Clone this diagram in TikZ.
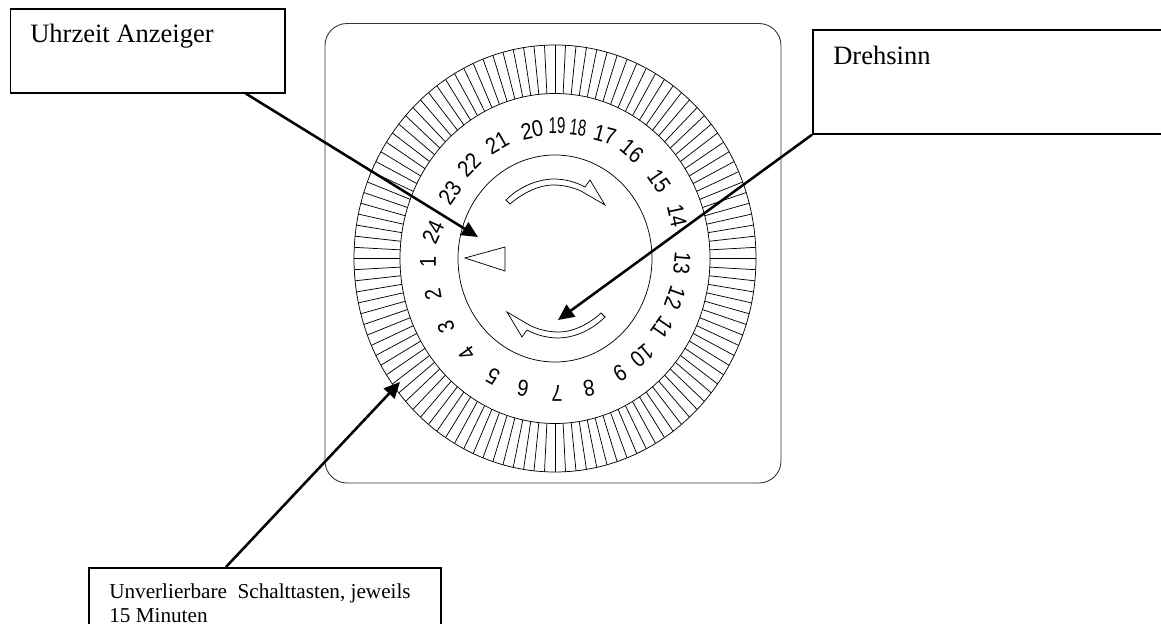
\documentclass[tikz,border=0pt]{standalone}
\usepackage{fontspec}
\usepackage{graphicx}
\setmainfont{Liberation Serif}
\newfontfamily\dialfont{Liberation Sans}
\usetikzlibrary{arrows.meta,calc}
\tikzset{
  callout/.style={draw=black,line width=1.3pt,inner sep=0pt,anchor=north west},
  pointer/.style={draw=black,line width=1.9pt,-{Triangle[length=12pt,width=11pt]}},
  dial/.style={draw=black,line width=0.55pt},
  hour/.style={font=\dialfont\fontsize{15}{15}\selectfont,inner sep=0pt},
  bignote/.style={anchor=base west,inner sep=0pt,font=\fontsize{19.9}{24}\selectfont},
  smallnote/.style={anchor=base west,inner sep=0pt,font=\fontsize{15.9}{18}\selectfont},
}
\begin{document}
\begin{tikzpicture}[x=0.75pt,y=-0.75pt]
\useasboundingbox (0,0) rectangle (1161,624);
% card
\draw[draw=black!80,line width=0.65pt,rounded corners=16.5pt] (325,23.5) rectangle (781,483);
% dial
\draw[dial] (555,258.5) ellipse [x radius=201,y radius=213.5];
\draw[dial] (555,258.5) ellipse [x radius=155,y radius=165];
\draw[dial] (555,258.5) ellipse [x radius=97,y radius=103.5];
\foreach \a in {0,3,...,357}
  \draw[dial] ({555+155*cos(\a)},{258.5+165*sin(\a)}) -- ({555+201*cos(\a)},{258.5+213.5*sin(\a)});
% pointer triangle
\draw[dial,line join=miter] (465,258) -- (505,247) -- (505,271) -- cycle;
% direction arrows
\draw[dial,line join=miter] (506,200) .. controls (520,186) and (538,179.5) .. (553,179)
   .. controls (565,179) and (576,182) .. (585,187) -- (590,180) -- (605,205) -- (581,191)
   .. controls (572,187) and (563,185) .. (553,185) .. controls (540,185) and (524,192) .. (510,204) -- cycle;
\draw[dial,line join=miter] (605,317) .. controls (591,331) and (574,337.5) .. (559,338)
   .. controls (547,338) and (536,335) .. (527,330) -- (522,337) -- (507,312) -- (531,326)
   .. controls (540,330) and (549,332) .. (559,332) .. controls (572,332) and (588,325) .. (601,313) -- cycle;
% hour numbers
\foreach \x/\y/\r/\s/\t in {
 433/232/65/1/24, 450/193/55/1/23, 469/165/45/1/22, 497/143/30/1/21, 532/130/12/1/20, 557/126/0/.75/19,
 578/128/-7/.75/18, 605/135/-15/1/17, 632/151/-40/1/16, 659/181/-55/1/15, 677/216/-78/1/14, 682/263/-95/1/13,
 675/298/-110/1/12, 662/328/-125/1/11, 642/356/-140/1/10, 620/373/-150/1/9, 589/388/-170/1/8, 557/393/180/1/7,
 523/388/170/1/6, 493/376/150/1/5, 467/353/125/1/4, 446/327/110/1/3, 433/294/100/1/2, 428/262/90/1/1}
  \node[hour,rotate=\r] (h\t) at (\x,\y) {\scalebox{\s}[1.15]{\t}};
% callouts
\node[callout,minimum width=206pt,minimum height=62.5pt] (uhr) at (9.5,8.5) {};
\node[bignote] (uhrtext) at (30,43) {Uhrzeit Anzeiger};
\node[callout,minimum width=300pt,minimum height=78pt] (dreh) at (812,29) {};
\node[bignote] (drehtext) at (833,65) {Drehsinn};
\node[callout,minimum width=264pt,minimum height=60pt] (unv) at (88,567) {};
\node[smallnote] (unvtext1) at (109,598) {Unverlierbare\ \ Schalttasten, jeweils};
\node[smallnote] (unvtext2) at (109,622) {15 Minuten};
% pointers
\coordinate (tipuhr) at (478,237);
\coordinate (tipdreh) at (558,320);
\coordinate (tipunv) at (400,382);
\draw[pointer] ($(uhr.south west)!0.855!(uhr.south east)$) -- (tipuhr);
\draw[pointer] (dreh.south west) -- (tipdreh);
\draw[pointer] ($(unv.north west)!0.39!(unv.north east)$) -- (tipunv);
\end{tikzpicture}
\end{document}
